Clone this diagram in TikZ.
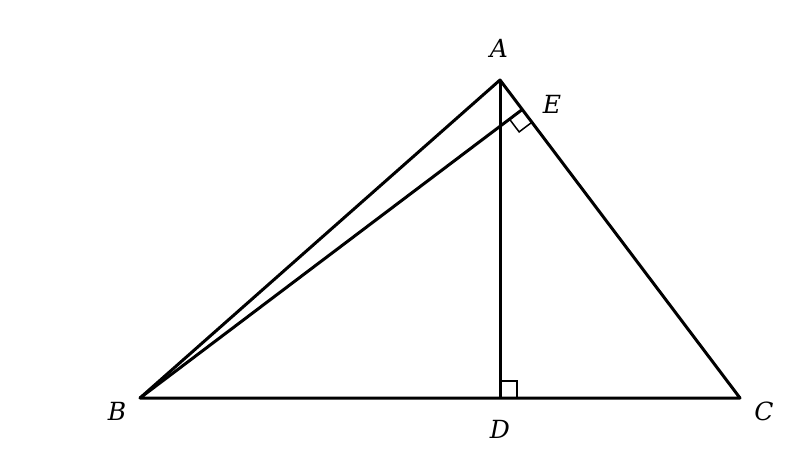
\documentclass[tikz,border=0pt]{standalone}
\usepackage{fontspec}
\setmainfont{DejaVu Serif}
\usetikzlibrary{calc}
\begin{document}
\begin{tikzpicture}[x=1pt,y=-1pt,
  edge/.style={line width=3pt,line join=round},
  rightmark/.style={line width=1.5pt},
  lab/.style={font=\fontsize{25}{30}\selectfont\itshape}]
\useasboundingbox (0,0) rectangle (800,450);
\coordinate (A) at (500,80);
\coordinate (B) at (140,398);
\coordinate (C) at (740,398);
\coordinate (D) at (500,398);
\coordinate (E) at ($(A)!(B)!(C)$);
\draw[edge] (A) -- (B) -- (C) -- cycle;
\draw[edge] (A) -- (D);
\draw[edge] (B) -- (E);
% right angle marks
\draw[rightmark] ($(D)+(0,-17)$) -- ($(D)+(17,-17)$) -- ($(D)+(17,0)$);
\coordinate (E1) at ($(E)!16pt!(B)$);
\coordinate (E2) at ($(E)!16pt!(C)$);
\draw[rightmark] (E1) -- ($(E1)+(E2)-(E)$) -- (E2);
\node[lab] (la) at (499,48) {A};
\node[lab] (lb) at (117,411) {B};
\node[lab] (lc) at (764,411) {C};
\node[lab] (ld) at (500,429) {D};
\node[lab] (le) at (552,104) {E};
\end{tikzpicture}
\end{document}
